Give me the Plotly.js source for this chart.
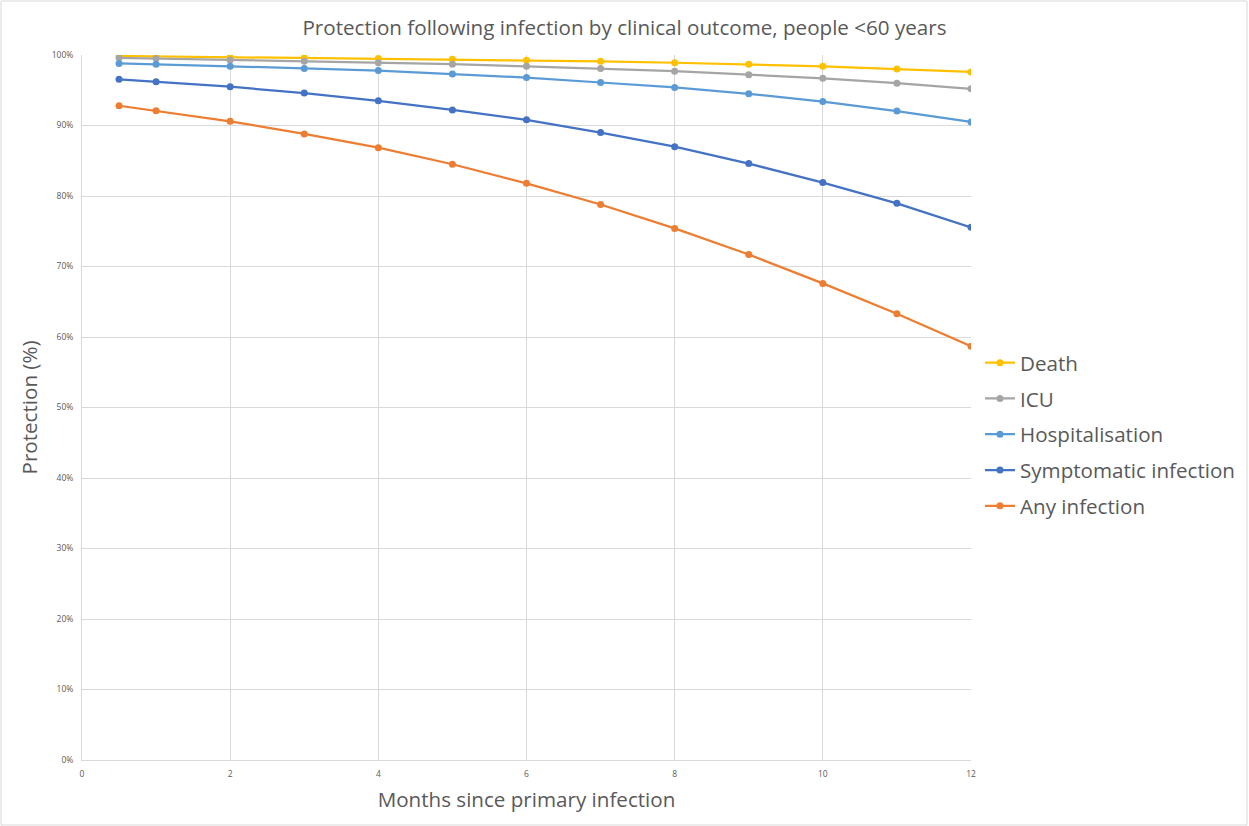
<!DOCTYPE html>
<html><head><meta charset="utf-8">
<script src="https://cdn.plot.ly/plotly-3.0.1.min.js"></script>
<style>html,body{margin:0;padding:0;background:#fff}#chart{width:1249px;height:826px}</style>
</head><body><div id="chart"></div>
<script>
const months = [0.5, 1, 2, 3, 4, 5, 6, 7, 8, 9, 10, 11, 12];
const death = [99.86, 99.8, 99.7, 99.6, 99.5, 99.4, 99.25, 99.1, 98.9, 98.7, 98.4, 98.0, 97.6];
const icu = [99.6, 99.5, 99.3, 99.1, 98.9, 98.7, 98.4, 98.1, 97.7, 97.2, 96.7, 96.0, 95.2];
const hospitalisation = [98.8, 98.7, 98.4, 98.1, 97.8, 97.3, 96.8, 96.1, 95.4, 94.5, 93.4, 92.05, 90.5];
const symptomatic = [96.55, 96.2, 95.5, 94.6, 93.5, 92.2, 90.8, 89.0, 87.0, 84.6, 81.9, 78.96, 75.55];
const anyInfection = [92.8, 92.1, 90.6, 88.8, 86.85, 84.5, 81.8, 78.8, 75.4, 71.7, 67.6, 63.3, 58.7];
const seriesNames = ["Death", "ICU", "Hospitalisation", "Symptomatic infection", "Any infection"];
const seriesValues = [death, icu, hospitalisation, symptomatic, anyInfection];
const colors = ["#FFC000", "#A5A5A5", "#5B9BD5", "#4472C4", "#ED7D31"];

const FONT = "'Open Sans', sans-serif";
const traces = seriesNames.map((n, i) => ({
  x: months, y: seriesValues[i], name: n, type: "scatter", mode: "lines+markers",
  line: {color: colors[i], width: 2.25}, marker: {color: colors[i], size: 7},
  legendgroup: "g" + i
}));
const layout = {
  width: 1249, height: 826,
  margin: {l: 82, r: 278, t: 55, b: 66, autoexpand: false},
  paper_bgcolor: "#fff", plot_bgcolor: "#fff",
  font: {family: FONT, color: "#595959"},
  title: {text: "Protection following infection by clinical outcome, people <60 years",
    font: {size: 20.6, color: "#595959", family: FONT}, x: 0.5, xanchor: "center", y: 0.966, yanchor: "middle"},
  xaxis: {range: [0, 12], dtick: 2, tick0: 0, showgrid: true, gridcolor: "#d9d9d9", gridwidth: 1,
    zeroline: false, showline: true, linecolor: "#d9d9d9", linewidth: 1, ticks: "",
    tickfont: {size: 8.5, color: "#595959"}, ticklabelstandoff: 6,
    title: {text: "Months since primary infection", font: {size: 20.6, color: "#595959"}, standoff: 14}},
  yaxis: {range: [0, 100], dtick: 10, tick0: 0, ticksuffix: "%", showgrid: true, gridcolor: "#d9d9d9", gridwidth: 1,
    zeroline: false, showline: true, linecolor: "#d9d9d9", linewidth: 1, ticks: "",
    tickfont: {size: 8.5, color: "#595959"}, ticklabelstandoff: 6,
    title: {text: "Protection (%)", font: {size: 20.6, color: "#595959"}, standoff: 8}},
  legend: {x: 1.0101, xanchor: "left", y: 0.462, yanchor: "middle", font: {size: 20.6, color: "#595959"},
    tracegroupgap: 6, itemwidth: 30, bgcolor: "rgba(0,0,0,0)"},
  showlegend: true,
  shapes: [{type: "rect", xref: "paper", yref: "paper", x0: -0.0911, x1: 1.3105, y0: -0.0922, y1: 1.0766,
    line: {color: "#d9d9d9", width: 1}, fillcolor: "rgba(0,0,0,0)"}]
};
Plotly.newPlot("chart", traces, layout, {displayModeBar: false, staticPlot: true});
</script></body></html>
